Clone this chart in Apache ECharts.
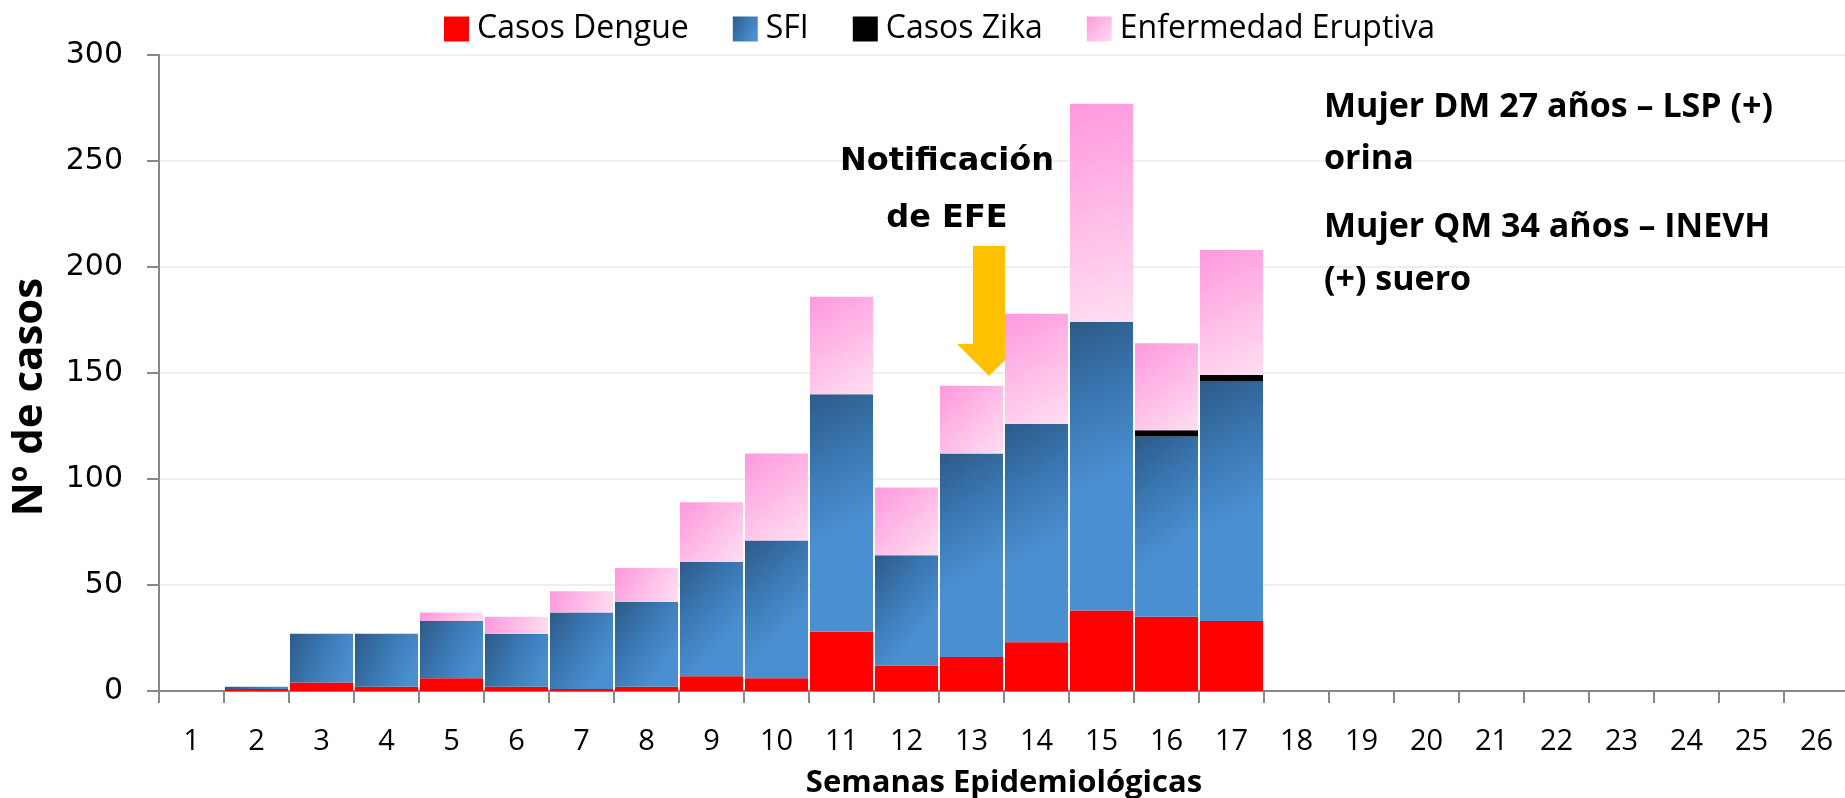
<!DOCTYPE html>
<html>
<head>
<meta charset="utf-8">
<script src="https://cdn.jsdelivr.net/npm/echarts@6/dist/echarts.min.js"></script>
<style>
  html, body { margin: 0; padding: 0; background: #fff; }
  #chart { width: 1845px; height: 798px; }
</style>
</head>
<body>
<div id="chart"></div>
<script>
// semanas epidemiologicas 1..26
const weeks = ['1','2','3','4','5','6','7','8','9','10','11','12','13','14','15','16','17','18','19','20','21','22','23','24','25','26'];
const dengue   = [0, 1, 4, 2, 6, 2, 1, 2, 7, 6, 28, 12, 16, 23, 38, 35, 33, 0, 0, 0, 0, 0, 0, 0, 0, 0];
const sfi      = [0, 1, 23, 25, 27, 25, 36, 40, 54, 65, 112, 52, 96, 103, 136, 85, 113, 0, 0, 0, 0, 0, 0, 0, 0, 0];
const zika     = [0, 0, 0, 0, 0, 0, 0, 0, 0, 0, 0, 0, 0, 0, 0, 3, 3, 0, 0, 0, 0, 0, 0, 0, 0, 0];
const eruptiva = [0, 0, 0, 0, 4, 8, 10, 16, 28, 41, 46, 32, 32, 52, 103, 41, 59, 0, 0, 0, 0, 0, 0, 0, 0, 0];
const yTicks = { min: 0, max: 300, interval: 50 };

const sans = "'Open Sans', sans-serif";

const chart = echarts.init(document.getElementById('chart'));

const blueGrad = new echarts.graphic.LinearGradient(0, 0, 1, 0.5, [
  { offset: 0, color: '#2d5a87' },
  { offset: 0.5, color: '#3a77b2' },
  { offset: 1, color: '#4a8fd0' }
]);
const pinkGrad = new echarts.graphic.LinearGradient(0, 0, 1, 1, [
  { offset: 0, color: '#ff98de' },
  { offset: 1, color: '#ffdff1' }
]);

function barSerie(name, data, color) {
  return {
    name: name,
    type: 'bar',
    stack: 'total',
    barCategoryGap: '3%',
    data: data,
    itemStyle: { color: color },
    emphasis: { disabled: true }
  };
}

const option = {
  animation: false,
  grid: { left: 159, top: 55, width: 1690, bottom: 107, outerBoundsMode: 'none' },
  legend: {
    left: 439,
    top: 8,
    icon: 'rect',
    itemWidth: 25,
    itemHeight: 25,
    itemGap: 44,
    textStyle: { fontFamily: sans, fontSize: 32, color: '#000', padding: [0, 0, 0, 3] },
    data: ['Casos Dengue', 'SFI', 'Casos Zika', 'Enfermedad Eruptiva']
  },
  xAxis: {
    type: 'category',
    data: weeks,
    name: 'Semanas Epidemiológicas',
    nameLocation: 'middle',
    nameGap: 77,
    nameTextStyle: { fontFamily: sans, fontWeight: 'bold', fontSize: 31, color: '#000' },
    axisLine: { lineStyle: { color: '#888', width: 2 } },
    axisTick: { show: true, length: 12, lineStyle: { color: '#888', width: 2 } },
    axisLabel: { margin: 36, fontFamily: sans, fontSize: 29, color: '#000' }
  },
  yAxis: {
    type: 'value',
    min: yTicks.min,
    max: yTicks.max,
    interval: yTicks.interval,
    axisLine: { show: true, lineStyle: { color: '#888', width: 2 } },
    axisTick: { show: true, length: 12, lineStyle: { color: '#888', width: 2 } },
    axisLabel: { margin: 36, fontFamily: 'DejaVu Sans', fontSize: 30, color: '#000' },
    splitLine: { lineStyle: { color: '#efefef', width: 2 } }
  },
  series: [
    barSerie('Casos Dengue', dengue, '#ff0000'),
    barSerie('SFI', sfi, blueGrad),
    barSerie('Casos Zika', zika, '#000000'),
    barSerie('Enfermedad Eruptiva', eruptiva, pinkGrad)
  ],
  graphic: [
    {
      // flecha amarilla, queda detras de las barras
      type: 'polygon',
      z: 1,
      shape: { points: [[973, 246], [1005, 246], [1005, 344], [1021, 344], [989, 376], [957, 344], [973, 344]] },
      style: { fill: '#ffc000' }
    },
    {
      type: 'text',
      z: 10,
      x: 947, y: 190,
      style: {
        text: 'Notificación\nde EFE',
        font: "bold 32px 'DejaVu Sans'",
        fill: '#000',
        align: 'center',
        verticalAlign: 'middle',
        lineHeight: 57
      }
    },
    {
      type: 'text',
      z: 10,
      x: 1324, y: 133,
      style: {
        text: 'Mujer DM 27 años – LSP (+)\norina',
        font: 'bold 34px ' + sans,
        fill: '#000',
        align: 'left',
        verticalAlign: 'middle',
        lineHeight: 52
      }
    },
    {
      type: 'text',
      z: 10,
      x: 1324, y: 254,
      style: {
        text: 'Mujer QM 34 años – INEVH\n(+) suero',
        font: 'bold 34px ' + sans,
        fill: '#000',
        align: 'left',
        verticalAlign: 'middle',
        lineHeight: 53
      }
    },
    {
      // titulo eje Y
      type: 'text',
      z: 10,
      x: 30, y: 397,
      rotation: Math.PI / 2,
      style: {
        text: 'Nº de casos',
        font: 'bold 42px ' + sans,
        fill: '#000',
        align: 'center',
        verticalAlign: 'middle'
      }
    }
  ]
};

chart.setOption(option);
</script>
</body>
</html>
